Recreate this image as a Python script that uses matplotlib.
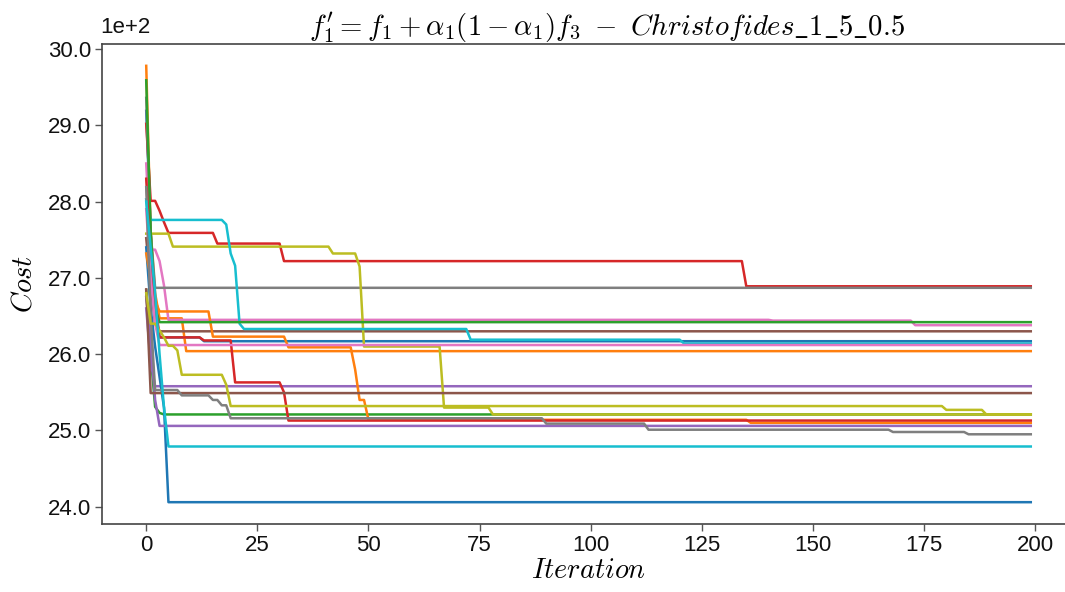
import numpy as np
import matplotlib
matplotlib.use("Agg")
import matplotlib.pyplot as plt
from matplotlib.ticker import FuncFormatter, MultipleLocator

plt.rcParams['font.family'] = ['Liberation Sans', 'DejaVu Sans']
plt.rcParams['mathtext.fontset'] = 'cm'

N_ITER = 200

# Each run: iterations where the best cost changes, and the cost held from there on.
blue_a_it = [0, 1, 2, 3, 13]
blue_a_val = [2919, 2760, 2660, 2622, 2617]
orange_a_it = [0, 1, 2, 3, 9]
orange_a_val = [2978, 2760, 2680, 2647, 2604]
green_b_it = [0, 1, 2, 3, 4]
green_b_val = [2684, 2600, 2531, 2523, 2521]
red_a_it = [0, 1, 3, 4, 5, 16, 31, 135]
red_a_val = [2902, 2801, 2788, 2773, 2759, 2745, 2722, 2689]
purple_a_it = [0, 1, 2]
purple_a_val = [2660, 2590, 2558]
brown_a_it = [0, 1, 2, 3]
brown_a_val = [2752, 2690, 2640, 2630]
pink_a_it = [0, 1, 3, 4, 5, 141, 173]
pink_a_val = [2850, 2737, 2722, 2690, 2645, 2644, 2638]
gray_a_it = [0, 1, 2]
gray_a_val = [2936, 2760, 2687]
olive_a_it = [0, 6, 42, 48, 49, 67, 78]
olive_a_val = [2758, 2741, 2732, 2715, 2610, 2530, 2521]
cyan_a_it = [0, 1, 18, 19, 20, 21, 22, 73, 121]
cyan_a_val = [2803, 2776, 2770, 2732, 2716, 2640, 2633, 2619, 2614]

blue_b_it = [0, 1, 2, 3, 4, 5]
blue_b_val = [2740, 2660, 2610, 2570, 2530, 2406]
orange_b_it = [0, 1, 2, 3, 15, 32, 47, 48, 50, 136]
orange_b_val = [2732, 2700, 2670, 2656, 2623, 2609, 2580, 2540, 2514, 2510]
green_a_it = [0, 1, 2, 3]
green_a_val = [2959, 2760, 2660, 2642]
red_b_it = [0, 1, 2, 3, 13, 20, 31, 32]
red_b_val = [2830, 2720, 2670, 2622, 2618, 2563, 2550, 2513]
purple_b_it = [0, 1, 2, 3]
purple_b_val = [2675, 2620, 2540, 2506]
brown_b_it = [0, 1]
brown_b_val = [2685, 2549]
pink_b_it = [0, 1, 2, 3]
pink_b_val = [2790, 2700, 2640, 2612]
gray_b_it = [0, 1, 2, 8, 15, 17, 19, 90, 113, 168, 185]
gray_b_val = [2819, 2650, 2553, 2546, 2540, 2533, 2516, 2509, 2501, 2498, 2495]
olive_b_it = [0, 1, 3, 4, 5, 7, 8, 18, 19, 180, 189]
olive_b_val = [2680, 2640, 2631, 2622, 2611, 2605, 2573, 2560, 2532, 2527, 2521]
cyan_b_it = [0, 1, 2, 3, 4, 5]
cyan_b_val = [2800, 2740, 2680, 2600, 2530, 2479]

runs = [
    (blue_a_it, blue_a_val), (orange_a_it, orange_a_val), (green_b_it, green_b_val),
    (red_a_it, red_a_val), (purple_a_it, purple_a_val), (brown_a_it, brown_a_val),
    (pink_a_it, pink_a_val), (gray_a_it, gray_a_val), (olive_a_it, olive_a_val),
    (cyan_a_it, cyan_a_val),
    (blue_b_it, blue_b_val), (orange_b_it, orange_b_val), (green_a_it, green_a_val),
    (red_b_it, red_b_val), (purple_b_it, purple_b_val), (brown_b_it, brown_b_val),
    (pink_b_it, pink_b_val), (gray_b_it, gray_b_val), (olive_b_it, olive_b_val),
    (cyan_b_it, cyan_b_val),
]

def hold_series(its, vals, n):
    its = np.asarray(its)
    vals = np.asarray(vals, dtype=float)
    idx = np.searchsorted(its, np.arange(n), side='right') - 1
    return vals[idx]

fig = plt.figure(figsize=(10.65, 5.92), dpi=100)
ax = fig.add_axes([102 / 1065, 68 / 592, 973 / 1065, 480 / 592])

x = np.arange(N_ITER)
colors = plt.rcParams['axes.prop_cycle'].by_key()['color']
for i, (its, vals) in enumerate(runs):
    ax.plot(x, hold_series(its, vals, N_ITER), color=colors[i % 10], lw=1.8)

ax.set_xlim(-9.95, 208.95)
ax.set_ylim(2377.4, 3006.6)
ax.xaxis.set_major_locator(MultipleLocator(25))
ax.yaxis.set_major_locator(MultipleLocator(100))
ax.yaxis.set_major_formatter(FuncFormatter(lambda v, p: '%.1f' % (v / 100)))

for side in ['left', 'bottom', 'top']:
    ax.spines[side].set_color('#444444')
    ax.spines[side].set_linewidth(1.2)
ax.spines['right'].set_visible(False)
ax.tick_params(axis='both', which='major', labelsize=16, length=5, width=1,
               color='#555555', labelcolor='#111111', pad=3)

ax.text(-0.002, 1.012, '1e+2', transform=ax.transAxes, fontsize=16,
        ha='left', va='bottom', color='#111111')

ax.set_title(r"$f_1^{\prime}=f_1+\alpha_1(1-\alpha_1)f_3\ -\ Christofides\_1\_5\_0.5$",
             fontsize=20.7, x=0.519, pad=6)
ax.set_xlabel(r"$Iteration$", fontsize=20.3, labelpad=1)
ax.set_ylabel(r"$Cost$", fontsize=20.3, labelpad=7)

fig.savefig('out.png', dpi=100)
